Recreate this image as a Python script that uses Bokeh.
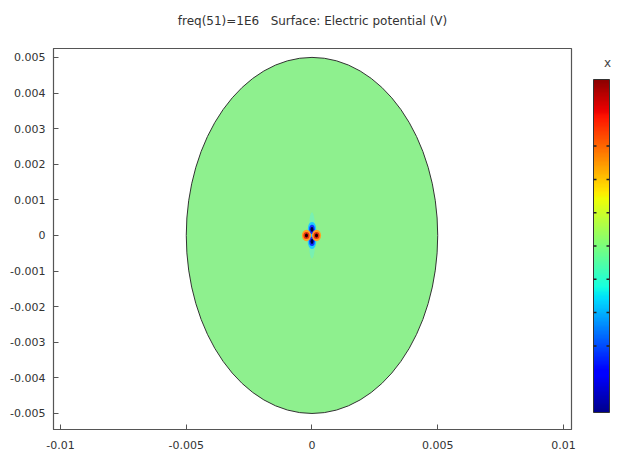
import numpy as np
from bokeh.plotting import figure
from bokeh.models import LinearColorMapper, FixedTicker, Range1d
from bokeh.core.properties import value
from bokeh.layouts import column, row
from bokeh.embed import file_html
from bokeh.resources import INLINE

# ---- data ----
title_text = "freq(51)=1E6\u00a0\u00a0 Surface: Electric potential (V)"
x_ticks = [-0.01, -0.005, 0.0, 0.005, 0.01]
x_tick_labels = ["-0.01", "-0.005", "0", "0.005", "0.01"]
y_ticks = [0.005, 0.004, 0.003, 0.002, 0.001, 0.0, -0.001, -0.002, -0.003, -0.004, -0.005]
y_tick_labels = ["0.005", "0.004", "0.003", "0.002", "0.001", "0", "-0.001", "-0.002", "-0.003", "-0.004", "-0.005"]
domain_center = [0.0, 0.0]
domain_radius = 0.005
# dipole feature near the centre: (x, y) of positive and negative lobes
pos_x = [-0.00022, 0.00018]
pos_y = [0.0, 0.0]
neg_x = [0.0, 0.0]
neg_y = [0.00017, -0.00017]
cbar_ticks = [0.2, 0.3, 0.4, 0.5, 0.6, 0.7, 0.8]
cbar_label = "x"

# jet-like palette (style)
def jet(n=256):
    t = np.linspace(0, 1, n)
    r = np.interp(t, [0, 0.35, 0.66, 0.89, 1], [0, 0, 1, 1, 0.55])
    g = np.interp(t, [0, 0.125, 0.375, 0.64, 0.91, 1], [0, 0, 1, 1, 0, 0])
    b = np.interp(t, [0, 0.11, 0.34, 0.65, 1], [0.55, 1, 1, 0, 0])
    return ["#%02x%02x%02x" % (int(a * 255), int(c * 255), int(d * 255)) for a, c, d in zip(r, g, b)]

palette = jet()
FONT = "DejaVu Sans"

# ---- title strip ----
p0 = figure(width=576, height=36, output_backend="svg", toolbar_location=None,
            x_range=Range1d(0, 1), y_range=Range1d(0, 36),
            x_axis_location=None, y_axis_location=None,
            min_border_left=53, min_border_right=5, min_border_top=0, min_border_bottom=0)
p0.grid.visible = False
p0.outline_line_color = None
p0.text(x=[0.5], y=[16], text=[title_text], text_align="center", text_baseline="middle",
        text_font=value(FONT), text_font_size="12px", text_color="#333333")

# ---- main plot ----
p = figure(width=576, height=417, output_backend="svg", toolbar_location=None,
           x_range=Range1d(-0.01028, 0.01032), y_range=Range1d(-0.00545, 0.00525),
           min_border_left=53, min_border_right=5, min_border_top=12, min_border_bottom=24)
p.grid.visible = False
p.outline_line_color = "#555555"
p.outline_line_width = 1.2

for ax in (p.xaxis[0], p.yaxis[0]):
    ax.major_tick_in = 5
    ax.major_tick_out = 0
    ax.minor_tick_line_color = None
    ax.axis_line_color = "#555555"
    ax.major_tick_line_color = "#555555"
    ax.major_label_text_font = FONT
    ax.major_label_text_font_size = "11px"
    ax.major_label_text_color = "#333333"

p.xaxis.ticker = FixedTicker(ticks=x_ticks)
p.xaxis.major_label_overrides = {t: l for t, l in zip(x_ticks, x_tick_labels)}
p.yaxis.ticker = FixedTicker(ticks=y_ticks)
p.yaxis.major_label_overrides = {t: l for t, l in zip(y_ticks, y_tick_labels)}
p.xaxis.major_label_standoff = 11
p.yaxis.major_label_standoff = 8

# domain
p.ellipse(x=[domain_center[0]], y=[domain_center[1]], width=2 * domain_radius, height=2 * domain_radius,
          fill_color="#8ef08e", line_color="#333333", line_width=1)

# central dipole feature
p.ellipse(x=[0.0], y=[0.0], width=0.00028, height=0.0013, fill_color="#70f0c0", fill_alpha=0.7, line_color=None)
p.ellipse(x=[0.0], y=[0.0], width=0.00065, height=0.0004, fill_color="#d8f070", fill_alpha=0.5, line_color=None)
p.ellipse(x=neg_x, y=neg_y, width=0.00034, height=0.00042, fill_color="#20c8ff", line_color=None)
p.ellipse(x=neg_x, y=neg_y, width=0.00022, height=0.00026, fill_color="#1030ff", line_color=None)
p.ellipse(x=neg_x, y=neg_y, width=0.00012, height=0.00014, fill_color="#000040", line_color=None)
p.ellipse(x=pos_x, y=pos_y, width=0.00036, height=0.00032, fill_color="#ffa020", line_color=None)
p.ellipse(x=pos_x, y=pos_y, width=0.00024, height=0.0002, fill_color="#e83010", line_color=None)
p.ellipse(x=pos_x, y=pos_y, width=0.00012, height=0.00011, fill_color="#200000", line_color=None)

# ---- colour bar strip (pixel-space figure; frame aligned with main frame) ----
p2 = figure(width=35, height=417, output_backend="svg", toolbar_location=None,
            x_range=Range1d(0, 35), y_range=Range1d(0, 381),
            x_axis_location=None, y_axis_location=None,
            min_border_left=0, min_border_right=0, min_border_top=12, min_border_bottom=24)
p2.grid.visible = False
p2.outline_line_color = None
bar_l, bar_r, bar_b, bar_t = 17, 33, 17, 350
mapper = LinearColorMapper(palette=palette, low=0, high=1)
grad = np.linspace(0, 1, 256).reshape(256, 1)
p2.image(image=[grad], x=bar_l, y=bar_b, dw=bar_r - bar_l, dh=bar_t - bar_b, color_mapper=mapper)
p2.quad(left=[bar_l], right=[bar_r], bottom=[bar_b], top=[bar_t], fill_color=None,
        line_color="#333333", line_width=1)
ty = [bar_b + (bar_t - bar_b) * t for t in cbar_ticks]
n = len(ty)
p2.segment(x0=[bar_l] * n, x1=[bar_l + 3] * n, y0=ty, y1=ty, line_color="#222222", line_width=1.5)
p2.segment(x0=[bar_r - 3] * n, x1=[bar_r] * n, y0=ty, y1=ty, line_color="#222222", line_width=1.5)
p2.text(x=[31], y=[367], text=[cbar_label], text_align="center", text_baseline="middle",
        text_font=value(FONT), text_font_size="12px", text_color="#444444")

layout = column(p0, row(p, p2, spacing=0), spacing=0)
open("out.html", "w").write(file_html(layout, INLINE))
